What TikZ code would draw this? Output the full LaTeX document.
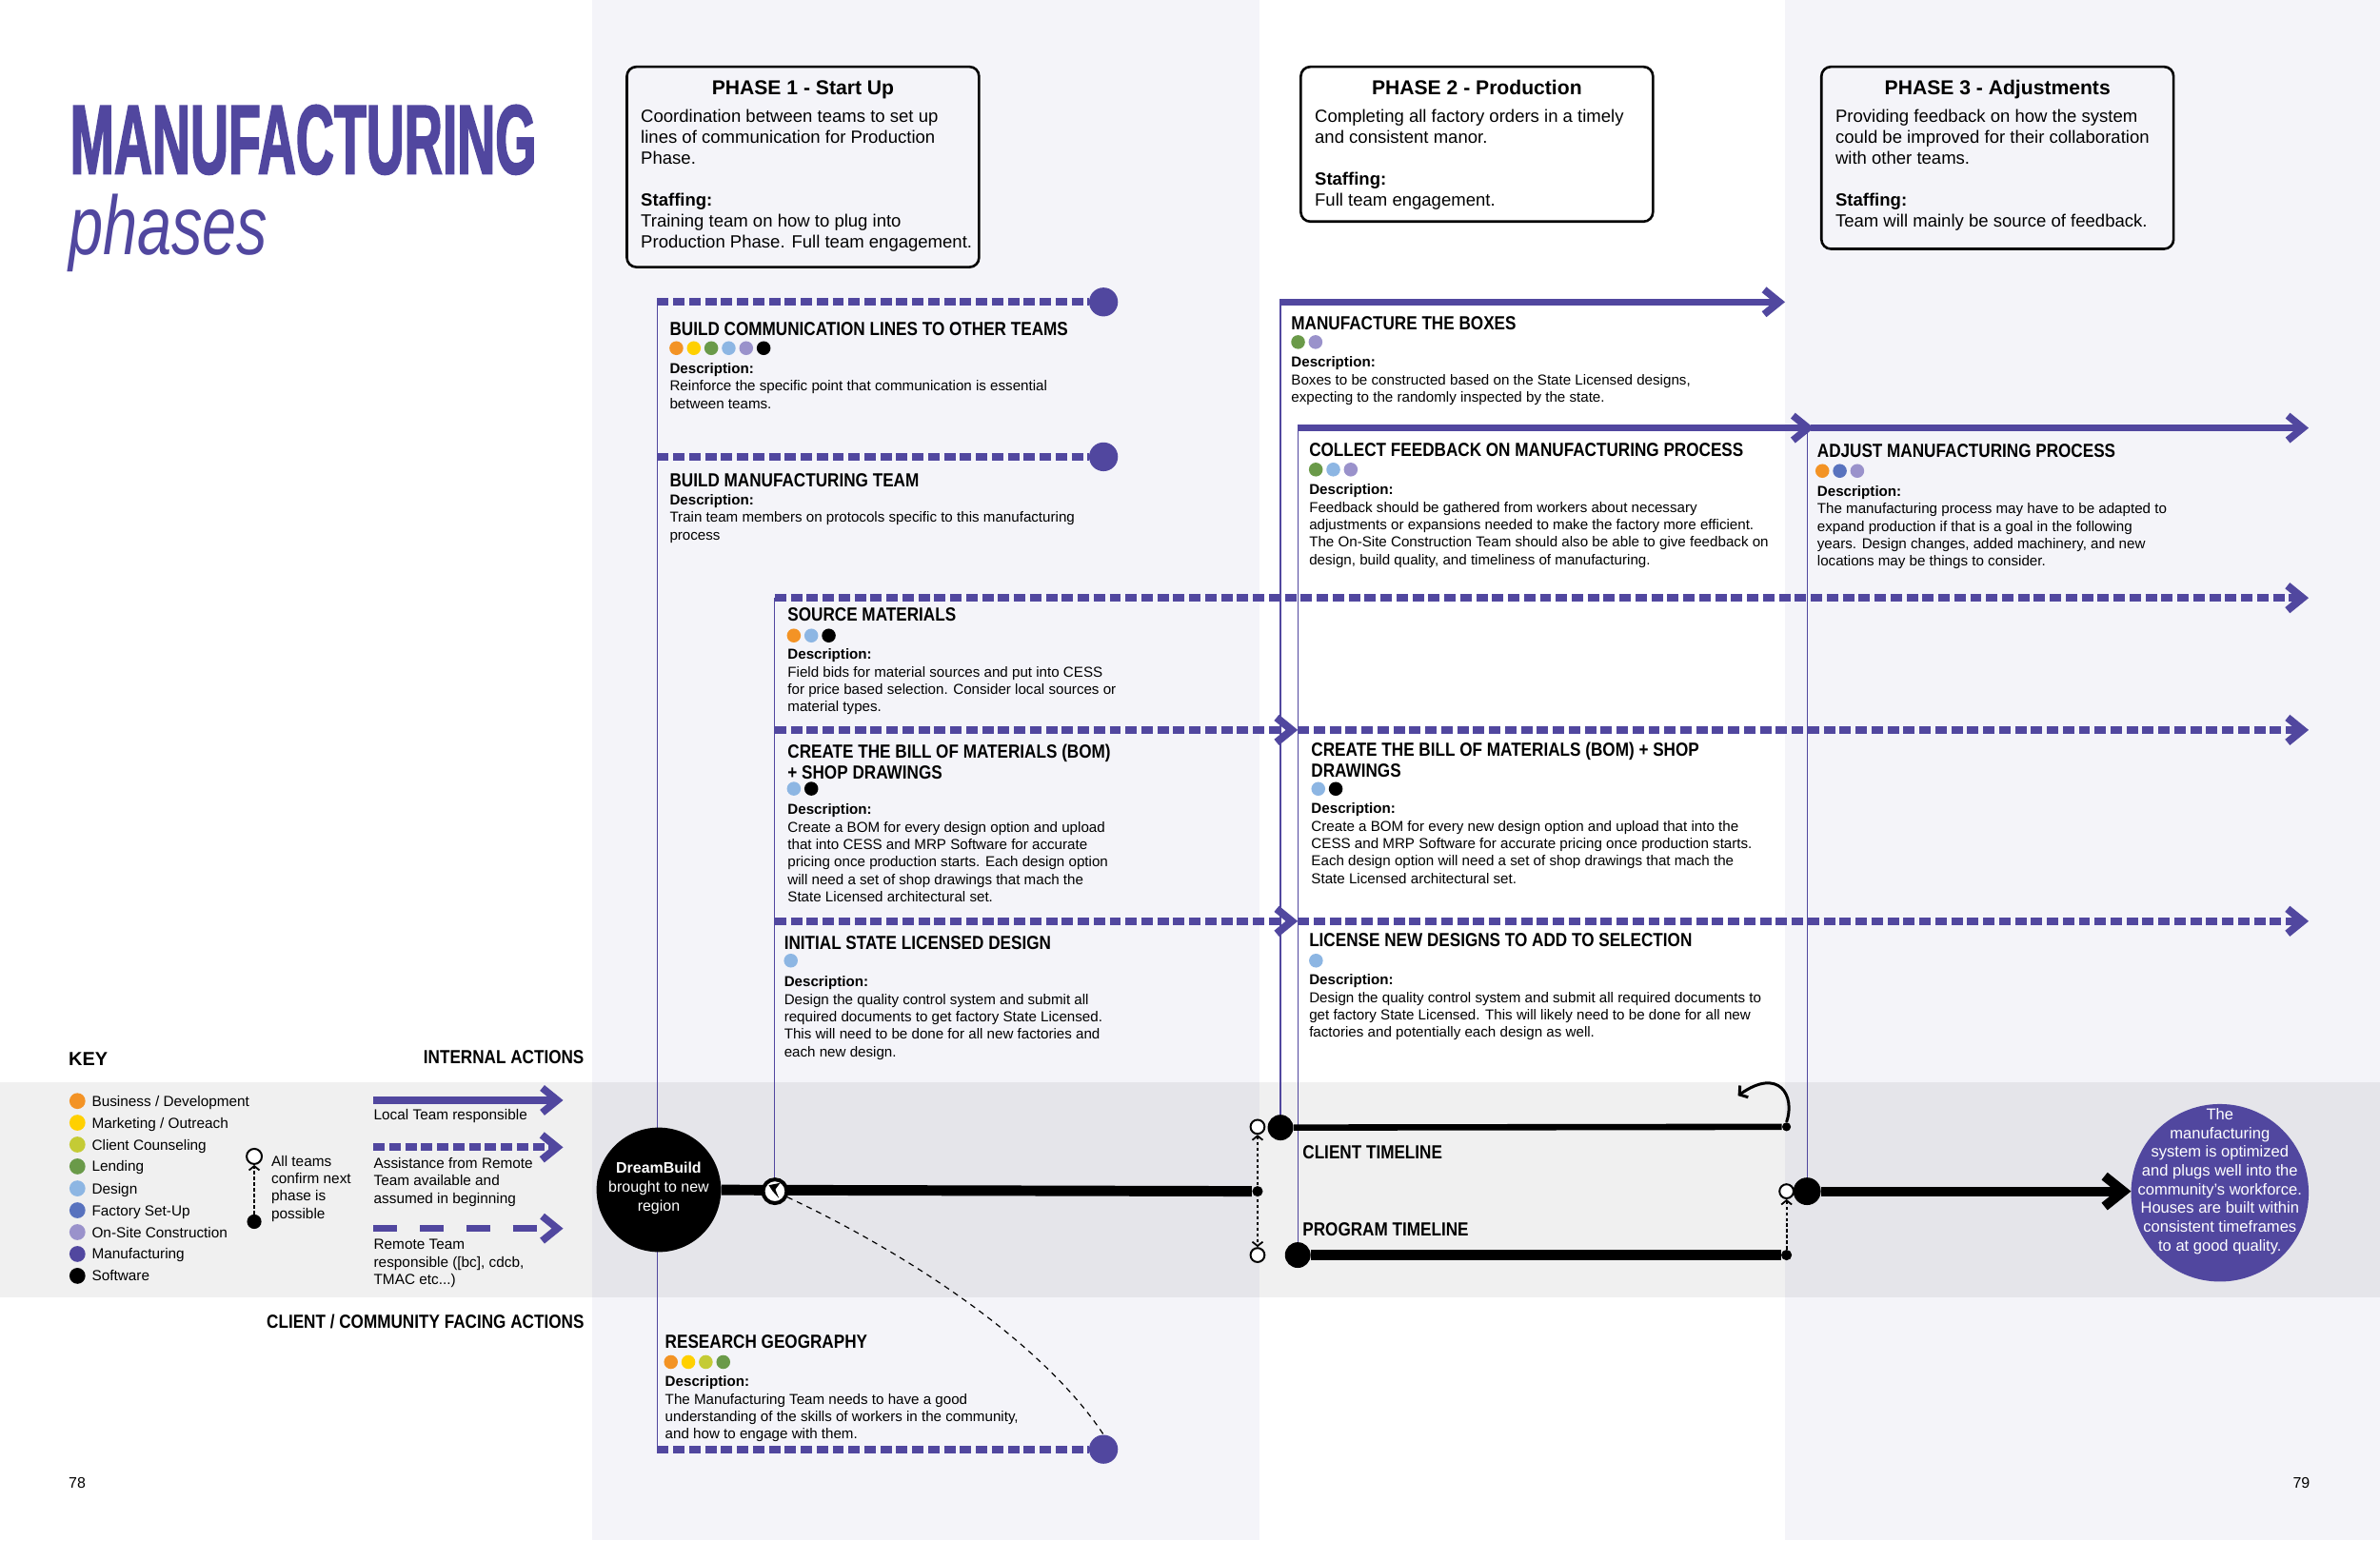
\documentclass[tikz,border=0pt]{standalone}
\usepackage{fontspec}
\setmainfont{Liberation Sans}
\newfontfamily\tfont{Liberation Sans}[FakeStretch=0.86]
\newfontfamily\mfont{Liberation Sans}[FakeStretch=0.535,FakeBold=1.5]
\newfontfamily\pfont{Liberation Sans}[FakeStretch=0.74]
\usetikzlibrary{arrows.meta,fit}
\definecolor{mpurple}{HTML}{51479F}
\definecolor{lav}{HTML}{F4F4F9}
\definecolor{corange}{HTML}{F39325}
\definecolor{cyellow}{HTML}{FFD000}
\definecolor{cygreen}{HTML}{C4CB35}
\definecolor{cgreen}{HTML}{6A9A49}
\definecolor{clblue}{HTML}{8DB6E3}
\definecolor{cblue}{HTML}{5872BE}
\definecolor{clav}{HTML}{9A92CB}
\newcommand\dotrow[3]{\foreach \cc [count=\ii from 0] in {#3} {\fill[\cc] ({#1+11.5*\ii},#2) circle (3.65pt);}}
\newcommand\keyrow[4]{\fill[#2] (51,#1) circle (4.2pt); \node[keytxt] (#3) at (60.3,#1+3.45) {#4};}
\begin{document}
\begin{tikzpicture}[x=0.8pt,y=-0.8pt,
  sline/.style={mpurple, line width=3.8pt},
  dline/.style={mpurple, line width=4pt, dash pattern=on 6pt off 2.4pt},
  ldline/.style={mpurple, line width=3.8pt, dash pattern=on 12.5pt off 12pt},
  chev/.style={-{Straight Barb[length=8pt,width=13pt]}},
  vline/.style={mpurple, line width=0.55pt},
  enddot/.style={circle, fill=mpurple, inner sep=0, minimum size=15.2pt},
  fdot/.style={circle, fill=black, inner sep=0},
  ocirc/.style={circle, draw=black, fill=white, line width=1pt, inner sep=0, minimum size=7.4pt},
  dotl/.style={black, line width=0.9pt, dash pattern=on 1.6pt off 1.4pt},
  ttl/.style={anchor=north west, inner sep=0, align=left, font=\tfont\bfseries\fontsize{10}{11.2}\selectfont},
  tline/.style={anchor=base west, inner sep=0, font=\tfont\bfseries\fontsize{10}{11.2}\selectfont},
  dsc/.style={anchor=north west, inner sep=0, align=left, font=\fontsize{7.6}{9.2}\selectfont},
  pbox/.style={draw=black, line width=1.3pt, rounded corners=5pt, inner sep=0},
  ptitle/.style={anchor=base, inner sep=0, font=\bfseries\fontsize{10.6}{12}\selectfont},
  pbody/.style={anchor=north west, inner sep=0, align=left, font=\fontsize{9.3}{11.1}\selectfont},
  keytxt/.style={anchor=base west, inner sep=0, font=\fontsize{7.7}{9.2}\selectfont},
  keyblk/.style={anchor=north west, inner sep=0, align=left, font=\fontsize{7.7}{9.2}\selectfont},
]
\useasboundingbox (0,0) rectangle (1568,1015);
% backgrounds
\fill[white] (0,0) rectangle (1568,1015);
\fill[lav] (390,0) rectangle (830,1015);
\fill[lav] (1176,0) rectangle (1568,1015);
\fill[black, opacity=0.06] (0,713) rectangle (1568,855);

% title
\node[anchor=base west, inner sep=0, text=mpurple, font=\mfont\bfseries\fontsize{52}{52}\selectfont] (title) at (46,114.5) {MANUFACTURING};
\node[anchor=base west, inner sep=0, text=mpurple, font=\pfont\itshape\fontsize{44}{44}\selectfont] (subtitle) at (45,168) {phases};

% phase boxes
\node[pbox, fit={(413,44) (645,176)}] (p1) {};
\node[ptitle] (p1t) at (529,62.2) {PHASE 1 - Start Up};
\node[pbody] (p1b) at (422,71.7) {Coordination between teams to set up\\lines of communication for Production\\Phase.\\[11.1pt]\textbf{Staffing:}\\Training team on how to plug into\\Production Phase. Full team engagement.};
\node[pbox, fit={(857,44) (1089,146)}] (p2) {};
\node[ptitle] (p2t) at (973,62.2) {PHASE 2 - Production};
\node[pbody] (p2b) at (866,71.7) {Completing all factory orders in a timely\\and consistent manor.\\[11.1pt]\textbf{Staffing:}\\Full team engagement.};
\node[pbox, fit={(1200,44) (1432,164)}] (p3) {};
\node[ptitle] (p3t) at (1316,62.2) {PHASE 3 - Adjustments};
\node[pbody] (p3b) at (1209,71.7) {Providing feedback on how the system\\could be improved for their collaboration\\with other teams.\\[11.1pt]\textbf{Staffing:}\\Team will mainly be source of feedback.};

% thin vertical lines
\coordinate (v1a) at (433,199); \coordinate (v1b) at (433,955);
\draw[vline] (v1a) -- (v1b);
\coordinate (v2a) at (510.5,394); \coordinate (v2b) at (510.5,778);
\draw[vline] (v2a) -- (v2b);
\coordinate (v3a) at (843.6,199); \coordinate (v3b) at (843.6,736);
\draw[vline] (v3a) -- (v3b);
\coordinate (v4a) at (855,282); \coordinate (v4b) at (855,820);
\draw[vline] (v4a) -- (v4b);
\coordinate (v5a) at (1190.8,282); \coordinate (v5b) at (1190.8,778);
\draw[vline] (v5a) -- (v5b);

% action lines
\node[enddot] (e1) at (727,199) {};
\draw[dline] (v1a) -- (e1);
\coordinate (s2) at (433,301);
\node[enddot] (e2) at (727,301) {};
\draw[dline] (s2) -- (e2);
\coordinate (s3) at (510.5,394); \coordinate (e3) at (1521,394);
\draw[dline, chev] (s3) -- (e3);
\coordinate (s4) at (510.5,481); \coordinate (m4) at (855,481); \coordinate (e4) at (1521,481);
\draw[dline, chev] (s4) -- (m4);
\draw[dline, chev] (m4) -- (e4);
\coordinate (s5) at (510.5,607); \coordinate (m5) at (855,607); \coordinate (e5) at (1521,607);
\draw[dline, chev] (s5) -- (m5);
\draw[dline, chev] (m5) -- (e5);
\coordinate (s6) at (843,199); \coordinate (e6) at (1176,199);
\draw[sline, chev] (s6) -- (e6);
\coordinate (s7) at (855,282); \coordinate (m7) at (1195,282); \coordinate (m7b) at (1193,282); \coordinate (e7) at (1521,282);
\draw[sline, chev] (s7) -- (m7);
\draw[sline, chev] (m7b) -- (e7);
\coordinate (s11) at (433,955);
\node[enddot] (e11) at (727,955) {};
\draw[dline] (s11) -- (e11);

% item texts
\node[ttl] (t1) at (441,212.3) {BUILD COMMUNICATION LINES TO OTHER TEAMS};
\dotrow{445.6}{229.4}{corange,cyellow,cgreen,clblue,clav,black}
\node[dsc] (d1) at (441,239.1) {\textbf{Description:}\\Reinforce the specific point that communication is essential\\between teams.};

\node[ttl] (t2) at (441,311.8) {BUILD MANUFACTURING TEAM};
\node[dsc] (d2) at (441,325.5) {\textbf{Description:}\\Train team members on protocols specific to this manufacturing\\process};

\node[ttl] (t3) at (518.7,400.5) {SOURCE MATERIALS};
\dotrow{523}{418.8}{corange,clblue,black}
\node[dsc] (d3) at (518.7,427.3) {\textbf{Description:}\\Field bids for material sources and put into CESS\\for price based selection. Consider local sources or\\material types.};

\node[ttl] (t4) at (518.7,490) {CREATE THE BILL OF MATERIALS (BOM)\\+ SHOP DRAWINGS};
\dotrow{523}{519.7}{clblue,black}
\node[dsc] (d4) at (518.7,529.7) {\textbf{Description:}\\Create a BOM for every design option and upload\\that into CESS and MRP Software for accurate\\pricing once production starts. Each design option\\will need a set of shop drawings that mach the\\State Licensed architectural set.};

\node[ttl] (t5) at (516.4,616.5) {INITIAL STATE LICENSED DESIGN};
\dotrow{521}{633}{clblue}
\node[dsc] (d5) at (516.4,643.2) {\textbf{Description:}\\Design the quality control system and submit all\\required documents to get factory State Licensed.\\This will need to be done for all new factories and\\each new design.};

\node[ttl] (t6) at (850.5,208.1) {MANUFACTURE THE BOXES};
\dotrow{855.2}{225.4}{cgreen,clav}
\node[dsc] (d6) at (850.5,234.9) {\textbf{Description:}\\Boxes to be constructed based on the State Licensed designs,\\expecting to the randomly inspected by the state.};

\node[ttl] (t7) at (862.3,291.7) {COLLECT FEEDBACK ON MANUFACTURING PROCESS};
\dotrow{866.9}{309.4}{cgreen,clblue,clav}
\node[dsc] (d7) at (862.3,319) {\textbf{Description:}\\Feedback should be gathered from workers about necessary\\adjustments or expansions needed to make the factory more efficient.\\The On-Site Construction Team should also be able to give feedback on\\design, build quality, and timeliness of manufacturing.};

\node[ttl] (t8) at (1197,292.2) {ADJUST MANUFACTURING PROCESS};
\dotrow{1200.6}{310.3}{corange,cblue,clav}
\node[dsc] (d8) at (1197,320) {\textbf{Description:}\\The manufacturing process may have to be adapted to\\expand production if that is a goal in the following\\years. Design changes, added machinery, and new\\locations may be things to consider.};

\node[ttl] (t9) at (863.7,489) {CREATE THE BILL OF MATERIALS (BOM) + SHOP\\DRAWINGS};
\dotrow{868.5}{519.8}{clblue,black}
\node[dsc] (d9) at (863.7,529.1) {\textbf{Description:}\\Create a BOM for every new design option and upload that into the\\CESS and MRP Software for accurate pricing once production starts.\\Each design option will need a set of shop drawings that mach the\\State Licensed architectural set.};

\node[ttl] (t10) at (862.3,615) {LICENSE NEW DESIGNS TO ADD TO SELECTION};
\dotrow{867}{633}{clblue}
\node[dsc] (d10) at (862.3,642) {\textbf{Description:}\\Design the quality control system and submit all required documents to\\get factory State Licensed. This will likely need to be done for all new\\factories and potentially each design as well.};

\node[ttl] (t11) at (438,879.5) {RESEARCH GEOGRAPHY};
\dotrow{442}{897.5}{corange,cyellow,cygreen,cgreen}
\node[dsc] (d11) at (438,906.6) {\textbf{Description:}\\The Manufacturing Team needs to have a good\\understanding of the skills of workers in the community,\\and how to engage with them.};

% timeline
\node[circle, fill=black, inner sep=0, minimum size=65.6pt] (db) at (434,784) {};
\node[text=white, align=center, inner sep=0, font=\fontsize{8}{10}\selectfont] (dbt) at (434,783) {\textbf{DreamBuild}\\brought to new\\region};
\node[fdot, minimum size=5.6pt] (m1) at (828.5,785) {};
\draw[line width=5.5pt] (db) -- (m1);
\node[circle, draw=black, line width=2pt, fill=white, inner sep=0, minimum size=12.5pt] (sc) at (510.5,785) {};
\fill (506.5,781) -- (514,779.5) -- (510.8,783.8) -- (513.2,789.6) -- (508.8,784.6) -- cycle;
\draw[black, line width=0.6pt, dash pattern=on 3pt off 2.6pt] (sc.-25) .. controls (600,827) and (687,885) .. (e11.north);

\node[ocirc] (o1) at (828.5,742.5) {};
\node[ocirc] (o2) at (828.5,827) {};
\draw[dotl, {Straight Barb[length=2.2pt,width=5.5pt]}-{Straight Barb[length=2.2pt,width=5.5pt]}] (o1) -- (o2);
\node[fdot, minimum size=13.5pt] (c1) at (843.6,743) {};
\node[fdot, minimum size=13.5pt] (c2) at (855,827) {};
\node[fdot, minimum size=4.6pt] (c1e) at (1177,742.5) {};
\node[fdot, minimum size=5.6pt] (c2e) at (1177,827) {};
\draw[line width=3.3pt] (c1) -- (c1e);
\draw[line width=5.4pt] (c2) -- (c2e);
\coordinate (curl) at (1145,722);
\draw[line width=1.5pt, -{Straight Barb[length=3pt,width=7.5pt]}] (c1e.north) .. controls (1183,722) and (1172,703) .. (curl);
\node[tline] (lct) at (858,763.5) {CLIENT TIMELINE};
\node[tline] (lpt) at (858,814.6) {PROGRAM TIMELINE};
\node[ocirc] (o3) at (1177,785) {};
\draw[dotl, -{Straight Barb[length=2.2pt,width=5.5pt]}] (c2e) -- (o3);
\node[fdot, minimum size=14.5pt] (c3) at (1190.5,785) {};
\coordinate (fin) at (1404,785);
\draw[line width=5pt, -{Straight Barb[length=10pt,width=16pt]}] (c3) -- (fin);
\node[circle, fill=mpurple, inner sep=0, minimum size=93.6pt] (goal) at (1462.5,786) {};
\node[text=white, align=center, inner sep=0, font=\fontsize{8.3}{9.87}\selectfont] (goalt) at (1462.5,778.3) {The\\manufacturing\\system is optimized\\and plugs well into the\\community's workforce.\\Houses are built within\\consistent timeframes\\to at good quality.};

% key
\node[anchor=base west, inner sep=0, font=\bfseries\fontsize{10}{12}\selectfont] (key) at (45,702) {KEY};
\node[anchor=base east, inner sep=0, font=\tfont\bfseries\fontsize{10}{12}\selectfont] (ia) at (385,701.1) {INTERNAL ACTIONS};
\node[anchor=base east, inner sep=0, font=\tfont\bfseries\fontsize{10}{12}\selectfont] (ca) at (385,875.1) {CLIENT / COMMUNITY FACING ACTIONS};
\keyrow{725.5}{corange}{k1}{Business / Development}
\keyrow{739.8}{cyellow}{k2}{Marketing / Outreach}
\keyrow{754.2}{cygreen}{k3}{Client Counseling}
\keyrow{768.6}{cgreen}{k4}{Lending}
\keyrow{783.1}{clblue}{k5}{Design}
\keyrow{797.5}{cblue}{k6}{Factory Set-Up}
\keyrow{811.9}{clav}{k7}{On-Site Construction}
\keyrow{826.3}{mpurple}{k8}{Manufacturing}
\keyrow{840.7}{black}{k9}{Software}

\node[ocirc, minimum size=8pt] (ko) at (167.5,762) {};
\node[fdot, minimum size=7.6pt] (kf) at (167.5,805) {};
\draw[dotl, -{Straight Barb[length=2.2pt,width=5.5pt]}] (kf) -- (ko);
\node[keyblk] (kt) at (178.6,761.2) {All teams\\confirm next\\phase is\\possible};

\coordinate (la1) at (246,725); \coordinate (lb1) at (371,725);
\draw[sline, chev] (la1) -- (lb1);
\node[keytxt] (lt1) at (246,738) {Local Team responsible};
\coordinate (la2) at (246,756); \coordinate (lb2) at (371,756);
\draw[dline, chev] (la2) -- (lb2);
\node[keyblk] (lt2) at (246,762.6) {Assistance from Remote\\Team available and\\assumed in beginning};
\coordinate (la3) at (246,809.5); \coordinate (lb3) at (371,809.5);
\draw[ldline, chev] (la3) -- (lb3);
\node[keyblk] (lt3) at (246,816.6) {Remote Team\\responsible ([bc], cdcb,\\TMAC etc...)};

% page numbers
\node[anchor=base west, inner sep=0, font=\fontsize{8}{9}\selectfont] (pg78) at (45,980.6) {78};
\node[anchor=base east, inner sep=0, font=\fontsize{8}{9}\selectfont] (pg79) at (1522,980.6) {79};
\end{tikzpicture}
\end{document}
